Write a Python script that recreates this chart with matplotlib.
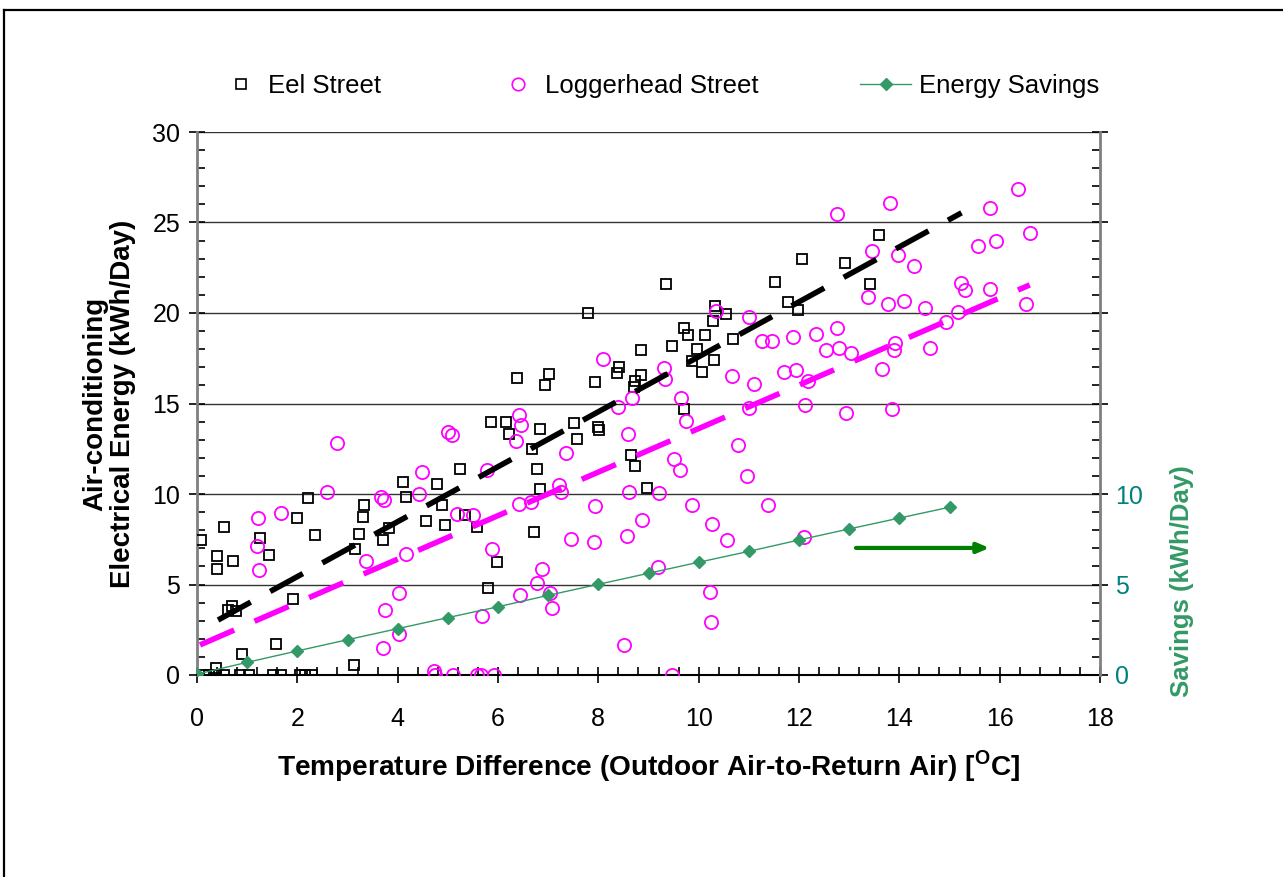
import numpy as np
import matplotlib.pyplot as plt
from matplotlib.lines import Line2D
from matplotlib.ticker import MultipleLocator, FixedLocator, FixedFormatter

plt.rcParams['font.family'] = ['Liberation Sans', 'DejaVu Sans']
plt.rcParams['mathtext.fontset'] = 'custom'
plt.rcParams['mathtext.rm'] = 'Liberation Sans'
plt.rcParams['mathtext.bf'] = 'Liberation Sans:bold'

# Eel Street daily AC energy vs temperature difference
eel_x = [0.13, 0.24, 0.37, 0.54, 0.86, 1.04, 1.51, 1.67, 2.06, 2.16, 2.29,
         0.38, 0.90, 1.58, 0.08, 0.39, 0.39, 0.54, 0.71, 1.26, 1.43, 1.99,
         2.21, 2.35, 0.62, 0.70, 0.78, 1.91, 3.12, 3.15, 3.23, 3.30, 3.32,
         3.70, 3.82, 4.11, 4.17, 4.57, 4.78, 4.88, 4.95, 5.24, 5.35, 5.59,
         5.86, 5.99, 5.81, 6.16, 6.21, 6.37, 7.02, 6.94, 7.79, 7.93, 9.34,
         8.42, 8.37, 8.85, 8.86, 8.73, 8.72, 6.84, 7.51, 7.58, 7.99, 8.01,
         9.71, 9.47, 9.71, 9.79, 9.97, 9.87, 10.07, 10.13, 10.30, 10.28,
         10.32, 10.54, 10.69, 11.52, 11.79, 11.99, 12.05, 6.68, 6.78, 6.84,
         6.72, 8.66, 8.74, 8.97, 12.92, 13.59, 13.42]
eel_y = [0, 0, 0, 0, 0, 0, 0, 0, 0, 0, 0,
         0.40, 1.14, 1.71, 7.47, 6.60, 5.84, 8.16, 6.31, 7.57, 6.61, 8.66,
         9.80, 7.75, 3.59, 3.81, 3.54, 4.18, 0.55, 6.96, 7.79, 8.75, 9.39,
         7.46, 8.12, 10.68, 9.83, 8.53, 10.53, 9.39, 8.27, 11.36, 8.86, 8.16,
         13.99, 6.24, 4.81, 13.96, 13.30, 16.41, 16.65, 16.04, 20.00, 16.19, 21.60,
         17.03, 16.66, 17.96, 16.56, 16.26, 15.93, 13.59, 13.92, 13.04, 13.72, 13.52,
         14.70, 18.18, 19.17, 18.80, 18.03, 17.33, 16.72, 18.78, 17.42, 19.58,
         20.40, 19.93, 18.55, 21.69, 20.63, 20.15, 22.98, 12.49, 11.36, 10.26,
         7.92, 12.14, 11.56, 10.35, 22.74, 24.29, 21.62]

# Loggerhead Street daily AC energy vs temperature difference
log_x = [4.72, 4.74, 5.10, 5.59, 5.67, 5.92, 2.79, 1.21, 1.67, 1.19, 1.24,
         2.60, 3.66, 3.73, 3.36, 4.17, 4.02, 3.74, 3.71, 4.02, 4.48, 4.42,
         5.00, 5.08, 5.19, 5.50, 5.79, 5.89, 5.69, 8.09, 11.00, 10.34, 11.27,
         11.47, 11.89, 12.34, 9.31, 9.33, 10.66, 11.10, 11.70, 11.95, 12.17,
         12.12, 9.65, 9.75, 11.01, 8.39, 8.68, 8.60, 10.78, 6.41, 6.46, 6.36,
         7.36, 9.50, 9.62, 10.96, 7.22, 7.26, 6.41, 6.65, 8.62, 9.21, 7.93,
         9.87, 11.38, 8.88, 7.46, 7.91, 8.57, 10.27, 10.56, 12.10, 6.87, 6.78,
         6.44, 7.03, 7.08, 9.19, 10.23, 10.25, 8.51, 9.47, 12.76, 13.81, 16.37,
         15.81, 16.60, 15.92, 15.57, 13.45, 13.97, 14.30, 15.22, 15.31, 15.80,
         13.38, 13.77, 14.09, 14.52, 16.52, 15.16, 14.94, 12.75, 12.54, 12.79,
         13.04, 13.91, 13.90, 14.62, 13.65, 12.94, 13.85]
log_y = [0.22, 0, 0, 0, 0, 0, 12.82, 8.67, 8.95, 7.13, 5.82,
         10.13, 9.82, 9.69, 6.30, 6.67, 4.53, 3.61, 1.51, 2.27, 11.22, 10.02,
         13.41, 13.26, 8.91, 8.84, 11.33, 6.98, 3.28, 17.44, 19.76, 20.11, 18.45,
         18.45, 18.66, 18.82, 16.98, 16.35, 16.50, 16.09, 16.74, 16.85, 16.24,
         14.92, 15.32, 14.03, 14.75, 14.83, 15.32, 13.33, 12.72, 14.38, 13.83, 12.93,
         12.25, 11.93, 11.34, 11.01, 10.48, 10.13, 9.46, 9.56, 10.09, 10.04, 9.32,
         9.41, 9.41, 8.56, 7.53, 7.37, 7.68, 8.34, 7.48, 7.64, 5.87, 5.10,
         4.42, 4.55, 3.70, 5.98, 4.59, 2.95, 1.66, 0.00, 25.49, 26.10, 26.83,
         25.82, 24.44, 23.96, 23.68, 23.44, 23.22, 22.60, 21.68, 21.29, 21.35,
         20.90, 20.50, 20.65, 20.26, 20.48, 20.03, 19.50, 19.19, 17.94, 18.08,
         17.79, 18.33, 17.96, 18.09, 16.89, 14.46, 14.71]

# Energy savings by temperature difference (right axis)
sav_x = list(range(16))
sav_y = [0.05, 0.70, 1.33, 1.95, 2.56, 3.17, 3.77, 4.40, 5.01, 5.62,
         6.23, 6.83, 7.46, 8.07, 8.67, 9.27]

# linear trend lines: slope, intercept, x-range
eel_fit = (1.518, 2.40, 0.42, 15.24)
log_fit = (1.2025, 1.59, 0.06, 16.6)

fig = plt.figure(figsize=(12.83, 8.77), dpi=100)
ax = fig.add_axes([197/1283, 1 - 675/877, (1100-197)/1283, (675-132)/877])

# outer frame
fig.add_artist(Line2D([4/1283, 1.0], [1 - 10/877, 1 - 10/877], color='black', lw=1.6))
fig.add_artist(Line2D([4/1283, 4/1283], [0, 1 - 10/877], color='black', lw=1.6))

ax.set_xlim(0, 18)
ax.set_ylim(0, 30)
ax.set_axisbelow(True)
ax.yaxis.grid(True, color='#333333', lw=1.0)

ax.plot(eel_x, eel_y, 's', ms=7, mfc='none', mec='black', mew=1.3, label='Eel Street', zorder=3)
ax.plot(log_x, log_y, 'o', ms=9.5, mfc='none', mec='#FF00FF', mew=1.3, label='Loggerhead Street', zorder=3)

for (m, b, x0, x1), c in [(eel_fit, 'black'), (log_fit, '#FF00FF')]:
    xs = np.array([x0, x1])
    ax.plot(xs, m * xs + b, color=c, lw=4.0, dashes=(6.7, 4.0), zorder=4)

ax2 = ax.twinx()
ax2.set_ylim(0, 30)
ax2.plot(sav_x, sav_y, '-D', color='#339966', ms=6.5, lw=1.0, label='Energy Savings', zorder=5)

ax2.annotate('', xy=(15.85, 7.02), xytext=(13.08, 7.02),
             arrowprops=dict(arrowstyle='-|>,head_length=0.7,head_width=0.3', color='#008000', lw=3))

# spines and ticks
for a in (ax, ax2):
    a.spines['top'].set_visible(False)
ax.spines['left'].set_color('#808080')
ax.spines['left'].set_linewidth(2)
ax.spines['bottom'].set_linewidth(1.5)
ax2.spines['right'].set_color('#808080')
ax2.spines['right'].set_linewidth(2)
ax2.spines['left'].set_visible(False)
ax2.spines['bottom'].set_visible(False)

ax.xaxis.set_major_locator(MultipleLocator(2))
ax.xaxis.set_minor_locator(MultipleLocator(0.4))
ax.yaxis.set_major_locator(MultipleLocator(5))
ax.yaxis.set_minor_locator(MultipleLocator(1))
ax.tick_params(which='major', direction='inout', length=12, width=1.2, labelsize=18, colors='black')
ax.tick_params(which='minor', direction='in', length=6, width=1.2)
ax.tick_params(axis='x', which='major', pad=17)
ax.tick_params(axis='y', which='major', pad=6)

ax2.yaxis.set_major_locator(FixedLocator([0, 5, 10, 15, 20, 25, 30]))
ax2.yaxis.set_major_formatter(FixedFormatter(['0', '5', '10', '', '', '', '']))
ax2.yaxis.set_minor_locator(MultipleLocator(1))
ax2.tick_params(which='major', direction='inout', length=12, width=1.2, labelsize=18,
                labelcolor='#008080', pad=5)
ax2.tick_params(which='minor', direction='in', length=6, width=1.2)

ax.set_xlabel(r'Temperature Difference (Outdoor Air-to-Return Air) [$^{\mathbf{O}}$C]',
              fontsize=20.2, fontweight='bold', labelpad=12)
ax.set_ylabel('Air-conditioning\nElectrical Energy (kWh/Day)', fontsize=20,
              fontweight='bold', labelpad=12, linespacing=1.05)
fig.text(1182/1283, 1 - 581/877, 'Savings (kWh/Day)', rotation=90, fontsize=18.5,
         fontweight='bold', color='#339966', ha='center', va='center')

# legend entries across the top
h_eel = Line2D([], [], ls='none', marker='s', ms=6.5, mfc='none', mec='black', mew=1.2)
h_log = Line2D([], [], ls='none', marker='o', ms=9, mfc='none', mec='#FF00FF', mew=1.2)
h_sav = Line2D([], [], color='#339966', marker='D', ms=6.5, lw=1.0)
for h, lab, xpos, hl in [(h_eel, 'Eel Street', 226, 1.2), (h_log, 'Loggerhead Street', 503, 1.2),
                         (h_sav, 'Energy Savings', 860, 2.0)]:
    fig.legend([h], [lab], loc='center left', bbox_to_anchor=(xpos/1283, 1 - 86/877),
               frameon=False, fontsize=18.5, handlelength=hl, handletextpad=0.3 if lab == 'Energy Savings' else 0.45,
               borderaxespad=0, borderpad=0)

fig.savefig('out.png', dpi=100)
